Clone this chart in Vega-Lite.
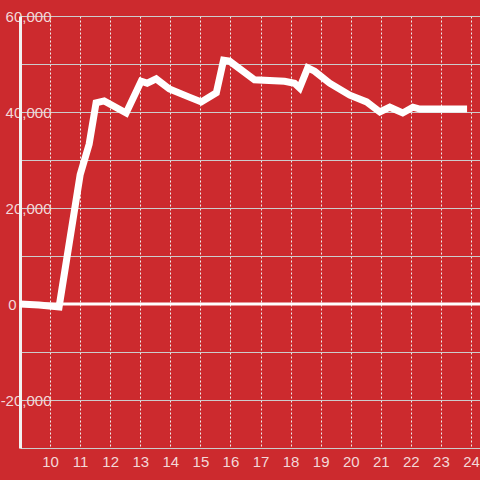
{
  "$schema": "https://vega.github.io/schema/vega-lite/v6.json",
  "width": 460,
  "height": 432,
  "autosize": {"type": "none"},
  "padding": {"left": 20, "top": 16, "right": 0, "bottom": 32},
  "background": "#cc2a2e",
  "config": {"view": {"stroke": null}, "font": "Liberation Sans"},
  "data": {
    "values": [
      {"x": 9.0, "y": 0},
      {"x": 9.63, "y": -200},
      {"x": 10.3, "y": -600},
      {"x": 11.0, "y": 26900},
      {"x": 11.3, "y": 33300},
      {"x": 11.53, "y": 41900},
      {"x": 11.8, "y": 42300},
      {"x": 12.53, "y": 39800},
      {"x": 13.03, "y": 46400},
      {"x": 13.23, "y": 46000},
      {"x": 13.53, "y": 46900},
      {"x": 13.97, "y": 44800},
      {"x": 14.63, "y": 43100},
      {"x": 15.03, "y": 42100},
      {"x": 15.53, "y": 44000},
      {"x": 15.77, "y": 50800},
      {"x": 15.97, "y": 50600},
      {"x": 16.8, "y": 46700},
      {"x": 17.8, "y": 46400},
      {"x": 18.13, "y": 46000},
      {"x": 18.3, "y": 45000},
      {"x": 18.57, "y": 49200},
      {"x": 18.8, "y": 48500},
      {"x": 19.3, "y": 46000},
      {"x": 19.97, "y": 43500},
      {"x": 20.53, "y": 42100},
      {"x": 20.97, "y": 40000},
      {"x": 21.3, "y": 41000},
      {"x": 21.73, "y": 39800},
      {"x": 22.07, "y": 41000},
      {"x": 22.3, "y": 40600},
      {"x": 23.87, "y": 40600}
    ]
  },
  "layer": [
    {
      "mark": {"type": "line", "color": "white", "strokeWidth": 7, "strokeJoin": "miter"},
      "encoding": {
        "x": {
          "field": "x",
          "type": "quantitative",
          "scale": {"domain": [9, 24.3], "nice": false, "zero": false},
          "axis": {
            "title": null,
            "values": [10, 11, 12, 13, 14, 15, 16, 17, 18, 19, 20, 21, 22, 23, 24],
            "domain": false,
            "ticks": false,
            "labelPadding": 6,
            "labelFontSize": 15,
            "labelColor": "#f3d8d8",
            "grid": true,
            "gridColor": "#eeeeee",
            "gridDash": [2, 2],
            "gridWidth": 1
          }
        },
        "y": {
          "field": "y",
          "type": "quantitative",
          "scale": {"domain": [-30000, 60000], "nice": false},
          "axis": {
            "title": null,
            "values": [-30000, -20000, -10000, 0, 10000, 20000, 30000, 40000, 50000, 60000],
            "labelExpr": "datum.value % 20000 === 0 ? replace(format(datum.value, ','), '\u2212', '-') : ''",
            "domain": true,
            "domainColor": "#f2f2f2",
            "domainWidth": 3,
            "ticks": false,
            "tickSize": 0,
            "labelAlign": "right",
            "labelPadding": {"condition": {"test": "datum.value === 0", "value": 4}, "value": -31},
            "labelFontSize": 15,
            "labelColor": "#f3d8d8",
            "grid": true,
            "gridColor": "#cccccc",
            "gridWidth": 1
          }
        }
      }
    },
    {
      "data": {"values": [{"y": 0}]},
      "mark": {"type": "rule", "color": "white", "strokeWidth": 3},
      "encoding": {
        "y": {"field": "y", "type": "quantitative"}
      }
    }
  ]
}
